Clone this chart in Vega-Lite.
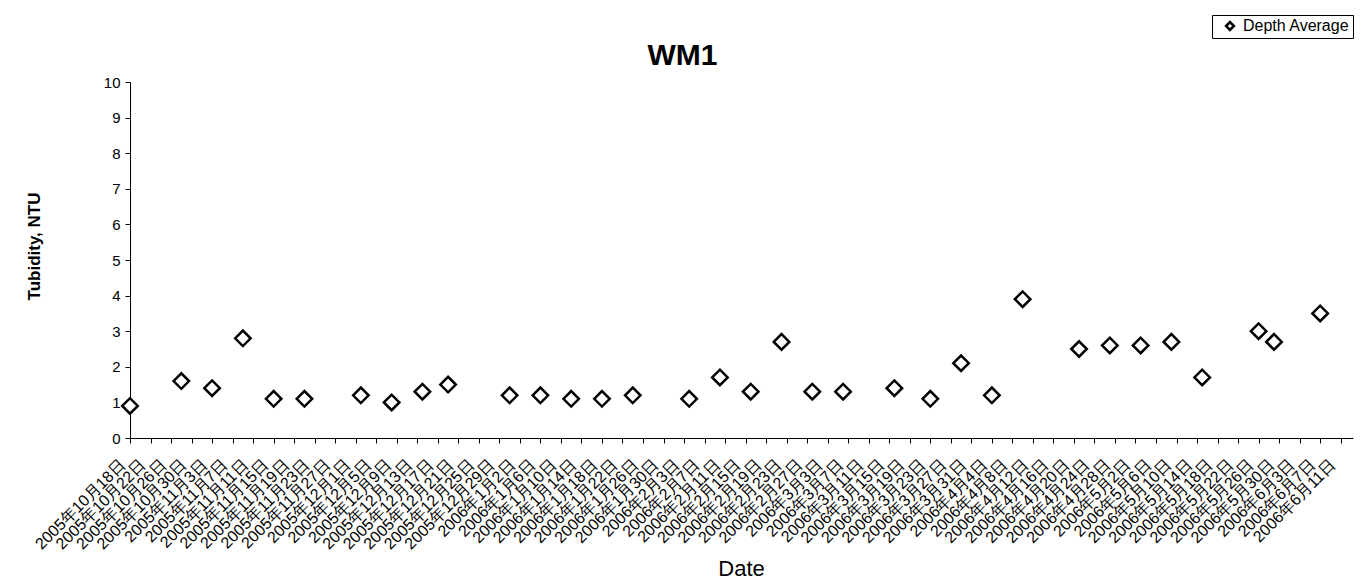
{
  "$schema": "https://vega.github.io/schema/vega-lite/v6.json",
  "autosize": {"type": "none"},
  "width": 1223,
  "height": 356,
  "padding": {"left": 130, "top": 82, "right": 16, "bottom": 150},
  "background": "white",
  "title": {
    "text": "WM1",
    "font": "Liberation Sans",
    "fontSize": 30,
    "fontWeight": "bold",
    "color": "black",
    "anchor": "middle",
    "baseline": "alphabetic",
    "dx": -59,
    "dy": 80,
    "offset": 0
  },
  "data": {
    "values": [
      {"date": "2005-10-18", "value": 0.9, "series": "Depth Average"},
      {"date": "2005-10-28", "value": 1.6, "series": "Depth Average"},
      {"date": "2005-11-03", "value": 1.4, "series": "Depth Average"},
      {"date": "2005-11-09", "value": 2.8, "series": "Depth Average"},
      {"date": "2005-11-15", "value": 1.1, "series": "Depth Average"},
      {"date": "2005-11-21", "value": 1.1, "series": "Depth Average"},
      {"date": "2005-12-02", "value": 1.2, "series": "Depth Average"},
      {"date": "2005-12-08", "value": 1.0, "series": "Depth Average"},
      {"date": "2005-12-14", "value": 1.3, "series": "Depth Average"},
      {"date": "2005-12-19", "value": 1.5, "series": "Depth Average"},
      {"date": "2005-12-31", "value": 1.2, "series": "Depth Average"},
      {"date": "2006-01-06", "value": 1.2, "series": "Depth Average"},
      {"date": "2006-01-12", "value": 1.1, "series": "Depth Average"},
      {"date": "2006-01-18", "value": 1.1, "series": "Depth Average"},
      {"date": "2006-01-24", "value": 1.2, "series": "Depth Average"},
      {"date": "2006-02-04", "value": 1.1, "series": "Depth Average"},
      {"date": "2006-02-10", "value": 1.7, "series": "Depth Average"},
      {"date": "2006-02-16", "value": 1.3, "series": "Depth Average"},
      {"date": "2006-02-22", "value": 2.7, "series": "Depth Average"},
      {"date": "2006-02-28", "value": 1.3, "series": "Depth Average"},
      {"date": "2006-03-06", "value": 1.3, "series": "Depth Average"},
      {"date": "2006-03-16", "value": 1.4, "series": "Depth Average"},
      {"date": "2006-03-23", "value": 1.1, "series": "Depth Average"},
      {"date": "2006-03-29", "value": 2.1, "series": "Depth Average"},
      {"date": "2006-04-04", "value": 1.2, "series": "Depth Average"},
      {"date": "2006-04-10", "value": 3.9, "series": "Depth Average"},
      {"date": "2006-04-21", "value": 2.5, "series": "Depth Average"},
      {"date": "2006-04-27", "value": 2.6, "series": "Depth Average"},
      {"date": "2006-05-03", "value": 2.6, "series": "Depth Average"},
      {"date": "2006-05-09", "value": 2.7, "series": "Depth Average"},
      {"date": "2006-05-15", "value": 1.7, "series": "Depth Average"},
      {"date": "2006-05-26", "value": 3.0, "series": "Depth Average"},
      {"date": "2006-05-29", "value": 2.7, "series": "Depth Average"},
      {"date": "2006-06-07", "value": 3.5, "series": "Depth Average"}
    ],
    "format": {"parse": {"date": "utc:'%Y-%m-%d'"}}
  },
  "mark": {
    "type": "point",
    "shape": "diamond",
    "filled": false,
    "fill": "white",
    "size": 240,
    "strokeWidth": 2.5,
    "opacity": 1
  },
  "encoding": {
    "x": {
      "field": "date",
      "type": "temporal",
      "scale": {"type": "utc", "domain": [1129593600000, 1150191360000]},
      "axis": {
        "title": "Date",
        "titleFont": "Liberation Sans",
        "titleFontSize": 22,
        "titleFontWeight": "normal",
        "titleColor": "black",
        "titleX": 611,
        "titleY": 137,
        "titleAlign": "center",
        "titleBaseline": "alphabetic",
        "values": [1129593600000, 1129939200000, 1130284800000, 1130630400000, 1130976000000, 1131321600000, 1131667200000, 1132012800000, 1132358400000, 1132704000000, 1133049600000, 1133395200000, 1133740800000, 1134086400000, 1134432000000, 1134777600000, 1135123200000, 1135468800000, 1135814400000, 1136160000000, 1136505600000, 1136851200000, 1137196800000, 1137542400000, 1137888000000, 1138233600000, 1138579200000, 1138924800000, 1139270400000, 1139616000000, 1139961600000, 1140307200000, 1140652800000, 1140998400000, 1141344000000, 1141689600000, 1142035200000, 1142380800000, 1142726400000, 1143072000000, 1143417600000, 1143763200000, 1144108800000, 1144454400000, 1144800000000, 1145145600000, 1145491200000, 1145836800000, 1146182400000, 1146528000000, 1146873600000, 1147219200000, 1147564800000, 1147910400000, 1148256000000, 1148601600000, 1148947200000, 1149292800000, 1149638400000, 1149984000000],
        "format": "%Y年%-m月%-d日",
        "labelAngle": -45,
        "labelAlign": "right",
        "labelBaseline": "middle",
        "labelFont": "Liberation Sans",
        "labelFontSize": 16,
        "labelColor": "black",
        "labelOverlap": false,
        "labelPadding": 19,
        "labelOffset": -8,
        "labelBound": false,
        "labelFlush": false,
        "domainColor": "black",
        "domainWidth": 1,
        "tickColor": "black",
        "tickSize": 5,
        "grid": false
      }
    },
    "y": {
      "field": "value",
      "type": "quantitative",
      "scale": {"domain": [0, 10], "nice": false, "zero": true},
      "axis": {
        "title": "Tubidity, NTU",
        "titleFont": "Liberation Sans",
        "titleFontSize": 17,
        "titleFontWeight": "bold",
        "titleColor": "black",
        "titleAngle": -90,
        "titleX": -96,
        "titleY": 164,
        "titleAlign": "center",
        "titleBaseline": "middle",
        "values": [0, 1, 2, 3, 4, 5, 6, 7, 8, 9, 10],
        "labelFont": "Liberation Sans",
        "labelFontSize": 15,
        "labelColor": "black",
        "labelPadding": 5,
        "domainColor": "black",
        "tickColor": "black",
        "tickSize": 5,
        "grid": false
      }
    },
    "color": {
      "field": "series",
      "type": "nominal",
      "scale": {"range": ["black"]},
      "legend": {
        "title": null,
        "orient": "none",
        "legendX": 1082,
        "legendY": -67,
        "strokeColor": "black",
        "fillColor": "white",
        "padding": 3,
        "symbolType": "diamond",
        "symbolSize": 60,
        "symbolStrokeWidth": 2.5,
        "symbolOffset": 7,
        "labelFont": "Liberation Sans",
        "labelFontSize": 16,
        "labelColor": "black",
        "labelOffset": 5
      }
    }
  },
  "config": {"view": {"stroke": null}}
}
